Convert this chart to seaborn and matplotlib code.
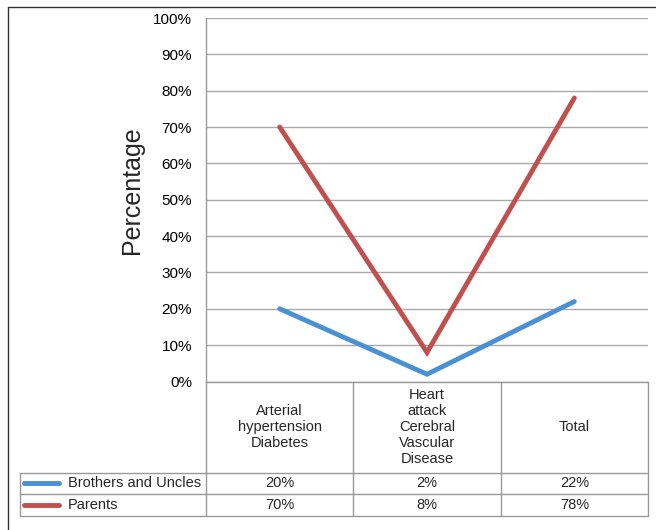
import matplotlib
matplotlib.use('Agg')
import matplotlib.pyplot as plt
from matplotlib.lines import Line2D
from matplotlib.ticker import MultipleLocator, PercentFormatter
import matplotlib.transforms as mtransforms
import pandas as pd
import seaborn as sns

# chart values
categories = ["Arterial\nhypertension\nDiabetes",
              "Heart\nattack\nCerebral\nVascular\nDisease",
              "Total"]
series_names = ["Brothers and Uncles", "Parents"]
brothers_uncles = [20, 2, 22]
parents = [70, 8, 78]
colors = ["#4a90d4", "#c0504d"]

W, H = 656, 530


def fx(px):
	return px / W


def fy(py):
	return 1 - py / H


def main():
	sns.set_style("white")
	plt.rcParams['font.family'] = ['Liberation Sans', 'DejaVu Sans']

	df = pd.DataFrame({
		'pos': list(range(len(categories))) * 2,
		'value': brothers_uncles + parents,
		'series': [series_names[0]] * 3 + [series_names[1]] * 3,
	})

	fig = plt.figure(figsize=(W / 100, H / 100), dpi=100)
	ax = fig.add_axes([fx(206), fy(381.5), fx(648) - fx(206), fy(18) - fy(381.5)])

	sns.lineplot(data=df, x='pos', y='value', hue='series', hue_order=series_names,
				 palette=colors, linewidth=3.5, legend=False, ax=ax,
				 solid_capstyle='round', solid_joinstyle='miter')

	ax.set_xlim(-0.5, len(categories) - 0.5)
	ax.set_ylim(0, 100)
	ax.yaxis.set_major_locator(MultipleLocator(10))
	ax.yaxis.set_major_formatter(PercentFormatter(decimals=0))
	ax.grid(axis='y', color='#aaaaaa', linewidth=1.0)
	ax.set_axisbelow(True)
	ax.set_xticks([])
	ax.set_xlabel('')
	ax.set_ylabel('')
	ax.tick_params(axis='y', length=0, pad=10, labelsize=11, labelcolor='black')
	for side in ['top', 'right', 'bottom']:
		ax.spines[side].set_visible(False)
	ax.spines['left'].set_color('#999999')
	ax.spines['left'].set_linewidth(1.0)

	fig.text(fx(132), fy(190), 'Percentage', rotation=90, ha='center', va='center', fontsize=18)

	# data table under the plot
	tr = mtransforms.blended_transform_factory(ax.transData, fig.transFigure)
	grid_kw = dict(color='#999999', linewidth=1.0, clip_on=False)
	n = len(categories)
	for i in range(n + 1):
		ax.add_line(Line2D([i - 0.5, i - 0.5], [fy(381.5), fy(516)], transform=tr, **grid_kw))
	fig.add_artist(Line2D([fx(206), fx(648)], [fy(381.5), fy(381.5)], **grid_kw))
	for py in [472.5, 494, 516]:
		fig.add_artist(Line2D([fx(20), fx(648)], [fy(py), fy(py)], **grid_kw))
	fig.add_artist(Line2D([fx(20), fx(20)], [fy(472.5), fy(516)], **grid_kw))

	for i, cat in enumerate(categories):
		ax.text(i, fy(427), cat, transform=tr, ha='center', va='center',
				fontsize=10.5, linespacing=1.2)

	row_y = [483, 505]
	for vals, name, col, py in zip([brothers_uncles, parents], series_names, colors, row_y):
		fig.add_artist(Line2D([fx(24), fx(59)], [fy(py), fy(py)], color=col,
							  linewidth=3.5, solid_capstyle='round'))
		fig.text(fx(68), fy(py), name, ha='left', va='center', fontsize=10.5)
		for i, v in enumerate(vals):
			ax.text(i, fy(py), f'{v}%', transform=tr, ha='center', va='center', fontsize=10.5)

	# outer frame
	frame_kw = dict(color='#333333', linewidth=1.0)
	fig.add_artist(Line2D([fx(8), fx(8)], [fy(7), 0], **frame_kw))
	fig.add_artist(Line2D([fx(8), 1], [fy(7), fy(7)], **frame_kw))

	plt.savefig('out.png', dpi=100)


if __name__ == "__main__":
	main()
